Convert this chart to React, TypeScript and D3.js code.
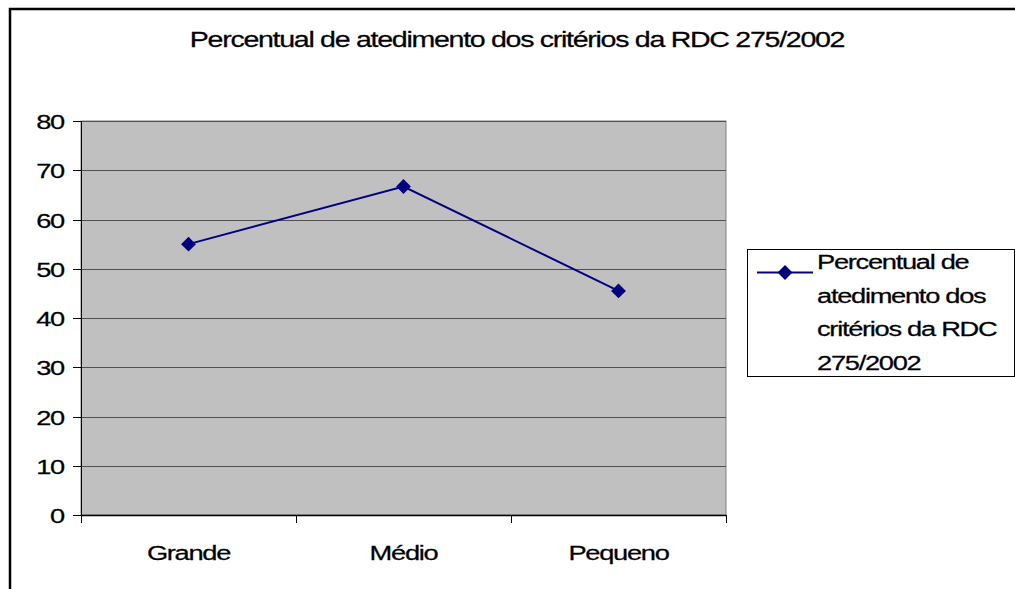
import React, { useEffect, useRef } from "react";
import * as d3 from "d3";

const categories = ["Grande", "Médio", "Pequeno"];
const values = [55, 66.7, 45.5];
const yTicks = [0, 10, 20, 30, 40, 50, 60, 70, 80];
const title = "Percentual de atedimento dos critérios da RDC 275/2002";
const legendLines = ["Percentual de", "atedimento dos", "critérios da RDC", "275/2002"];

const FONT = "'Liberation Sans', Arial, sans-serif";
const SX = 1.3; // text in the original is stretched horizontally and tightly spaced

export default function App({ width = 1015, height = 589 }) {
  const svgRef = useRef<SVGSVGElement>(null);

  useEffect(() => {
    const svg = d3.select(svgRef.current);
    svg.selectAll("*").remove();

    const addText = (x: number, y: number, str: string, anchor = "middle", size = 21) =>
      svg
        .append("text")
        .attr("transform", `translate(${x},${y}) scale(${SX},1)`)
        .attr("text-anchor", anchor)
        .attr("font-family", FONT)
        .attr("font-size", size)
        .attr("letter-spacing", -1)
        .attr("fill", "#000")
        .attr("stroke", "#000")
        .attr("stroke-width", 0.25)
        .text(str);

    // outer chart border
    svg
      .append("rect")
      .attr("x", 10)
      .attr("y", 9)
      .attr("width", 1030)
      .attr("height", 620)
      .attr("fill", "#fff")
      .attr("stroke", "#000")
      .attr("stroke-width", 2.5);

    // plot area
    const plot = { left: 81, right: 726, top: 121, bottom: 515 };

    const x = d3
      .scaleBand()
      .domain(categories)
      .range([plot.left, plot.right]);

    const y = d3
      .scaleLinear()
      .domain([0, 80])
      .range([plot.bottom, plot.top]);

    svg
      .append("rect")
      .attr("x", plot.left)
      .attr("y", plot.top)
      .attr("width", plot.right - plot.left)
      .attr("height", plot.bottom - plot.top)
      .attr("fill", "#c0c0c0")
      .attr("stroke", "#808080")
      .attr("stroke-width", 1);

    // gridlines
    svg
      .append("g")
      .selectAll("line")
      .data(yTicks.filter((d) => d > 0))
      .enter()
      .append("line")
      .attr("x1", plot.left)
      .attr("x2", plot.right)
      .attr("y1", (d) => Math.round(y(d)) + 0.5)
      .attr("y2", (d) => Math.round(y(d)) + 0.5)
      .attr("stroke", "#505050")
      .attr("stroke-width", 1);

    // y axis
    svg
      .append("line")
      .attr("x1", plot.left + 0.5)
      .attr("x2", plot.left + 0.5)
      .attr("y1", plot.top)
      .attr("y2", plot.bottom + 7)
      .attr("stroke", "#000");

    yTicks.forEach((t) => {
      const ty = Math.round(y(t)) + 0.5;
      svg
        .append("line")
        .attr("x1", plot.left - 8)
        .attr("x2", plot.left)
        .attr("y1", ty)
        .attr("y2", ty)
        .attr("stroke", "#000");
      addText(64, ty + 7, String(t), "end");
    });

    // x axis
    svg
      .append("line")
      .attr("x1", plot.left)
      .attr("x2", plot.right)
      .attr("y1", plot.bottom + 0.5)
      .attr("y2", plot.bottom + 0.5)
      .attr("stroke", "#000")
      .attr("stroke-width", 1.5);

    const bounds = categories.map((c) => x(c) as number).concat([plot.right]);
    bounds.forEach((bx) => {
      svg
        .append("line")
        .attr("x1", Math.round(bx) + 0.5)
        .attr("x2", Math.round(bx) + 0.5)
        .attr("y1", plot.bottom)
        .attr("y2", plot.bottom + 8)
        .attr("stroke", "#000");
    });

    categories.forEach((c) => {
      addText((x(c) as number) + x.bandwidth() / 2, 560, c);
    });

    // series line
    const cx = (i: number) => (x(categories[i]) as number) + x.bandwidth() / 2;
    const line = d3
      .line<number>()
      .x((d, i) => cx(i))
      .y((d) => y(d));

    svg
      .append("path")
      .datum(values)
      .attr("fill", "none")
      .attr("stroke", "#000080")
      .attr("stroke-width", 2)
      .attr("d", line);

    const diamond = d3.symbol().type(d3.symbolDiamond2).size(140);
    svg
      .selectAll("path.marker")
      .data(values)
      .enter()
      .append("path")
      .attr("class", "marker")
      .attr("transform", (d, i) => `translate(${cx(i)},${y(d)})`)
      .attr("d", diamond)
      .attr("fill", "#000080");

    // title
    addText(517, 47, title, "middle", 22);

    // legend
    svg
      .append("rect")
      .attr("x", 747.5)
      .attr("y", 249.5)
      .attr("width", 267)
      .attr("height", 127)
      .attr("fill", "#fff")
      .attr("stroke", "#000")
      .attr("stroke-width", 1);

    svg
      .append("line")
      .attr("x1", 757)
      .attr("x2", 813)
      .attr("y1", 272.5)
      .attr("y2", 272.5)
      .attr("stroke", "#000080")
      .attr("stroke-width", 2);

    svg
      .append("path")
      .attr("transform", "translate(785,272.5)")
      .attr("d", diamond)
      .attr("fill", "#000080");

    legendLines.forEach((l, i) => {
      addText(817, 269 + i * 33.7, l, "start");
    });
  }, [width, height]);

  return (
    <svg
      ref={svgRef}
      width={width}
      height={height}
      style={{ position: "absolute", left: 0, top: 0, background: "#fff" }}
    ></svg>
  );
}
